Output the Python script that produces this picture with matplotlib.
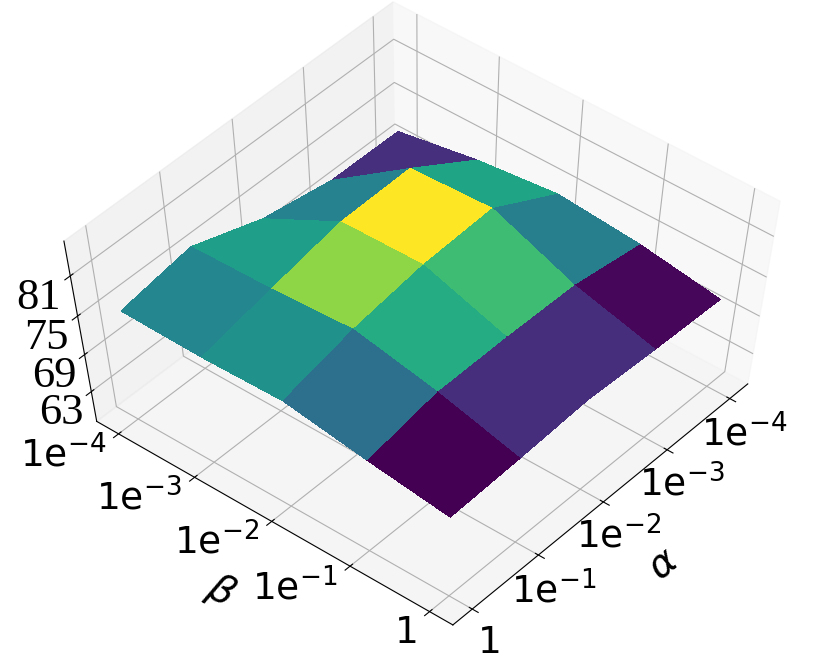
import numpy as np
import matplotlib
matplotlib.use('Agg')
import matplotlib.pyplot as plt
from matplotlib import cm

alpha_labels = [r'$\mathrm{1e}^{-4}$', r'$\mathrm{1e}^{-3}$', r'$\mathrm{1e}^{-2}$', r'$\mathrm{1e}^{-1}$', r'$\mathrm{1}$']
beta_labels = [r'$\mathrm{1e}^{-4}$', r'$\mathrm{1e}^{-3}$', r'$\mathrm{1e}^{-2}$', r'$\mathrm{1e}^{-1}$', r'$\mathrm{1}$']
z_ticks = [63, 69, 75, 81]
# rows: alpha, columns: beta
acc = np.array([[71.7, 73.6, 74.8, 73.8, 72.0],
                [71.8, 79.7, 80.2, 75.5, 72.4],
                [73.6, 79.5, 79.7, 75.7, 73.0],
                [77.1, 77.4, 78.1, 75.6, 72.3],
                [75.4, 75.2, 75.5, 73.5, 71.8]])

fig = plt.figure(figsize=(8.14, 6.62), dpi=100)
ax = fig.add_axes([0.0065, 0.05, 1.0, 0.92], projection='3d')
ax.apply_aspect = lambda position=None: None  # let the box stretch with the axes
ax.set_box_aspect((1, 1, 1), zoom=1.0)
x = np.arange(5)
y = np.arange(5)
X, Y = np.meshgrid(x, y, indexing='ij')
ax.plot_surface(X, Y, acc, cmap=cm.viridis, linewidth=0, antialiased=False, rstride=1, cstride=1)
ax.view_init(elev=60, azim=40)
ax.set_xlim(-0.29, 4.29)
ax.set_ylim(-0.29, 4.29)
ax.set_zlim(58, 86)
ax.set_xticks(x)
ax.set_yticks(y)
ax.set_zticks(z_ticks)
ax.set_xticklabels(alpha_labels, fontsize=27)
ax.set_yticklabels(beta_labels, fontsize=27, ha='right', va='center_baseline')
ax.set_zticklabels([str(v) for v in z_ticks], fontsize=32, family='Liberation Serif')
ax.tick_params(axis='z', pad=4)
ax.set_xlabel(r'$\alpha$', fontsize=28, labelpad=25)
ax.set_ylabel(r'$\beta$', fontsize=28, labelpad=26)
fig.savefig('out.png', dpi=100)
